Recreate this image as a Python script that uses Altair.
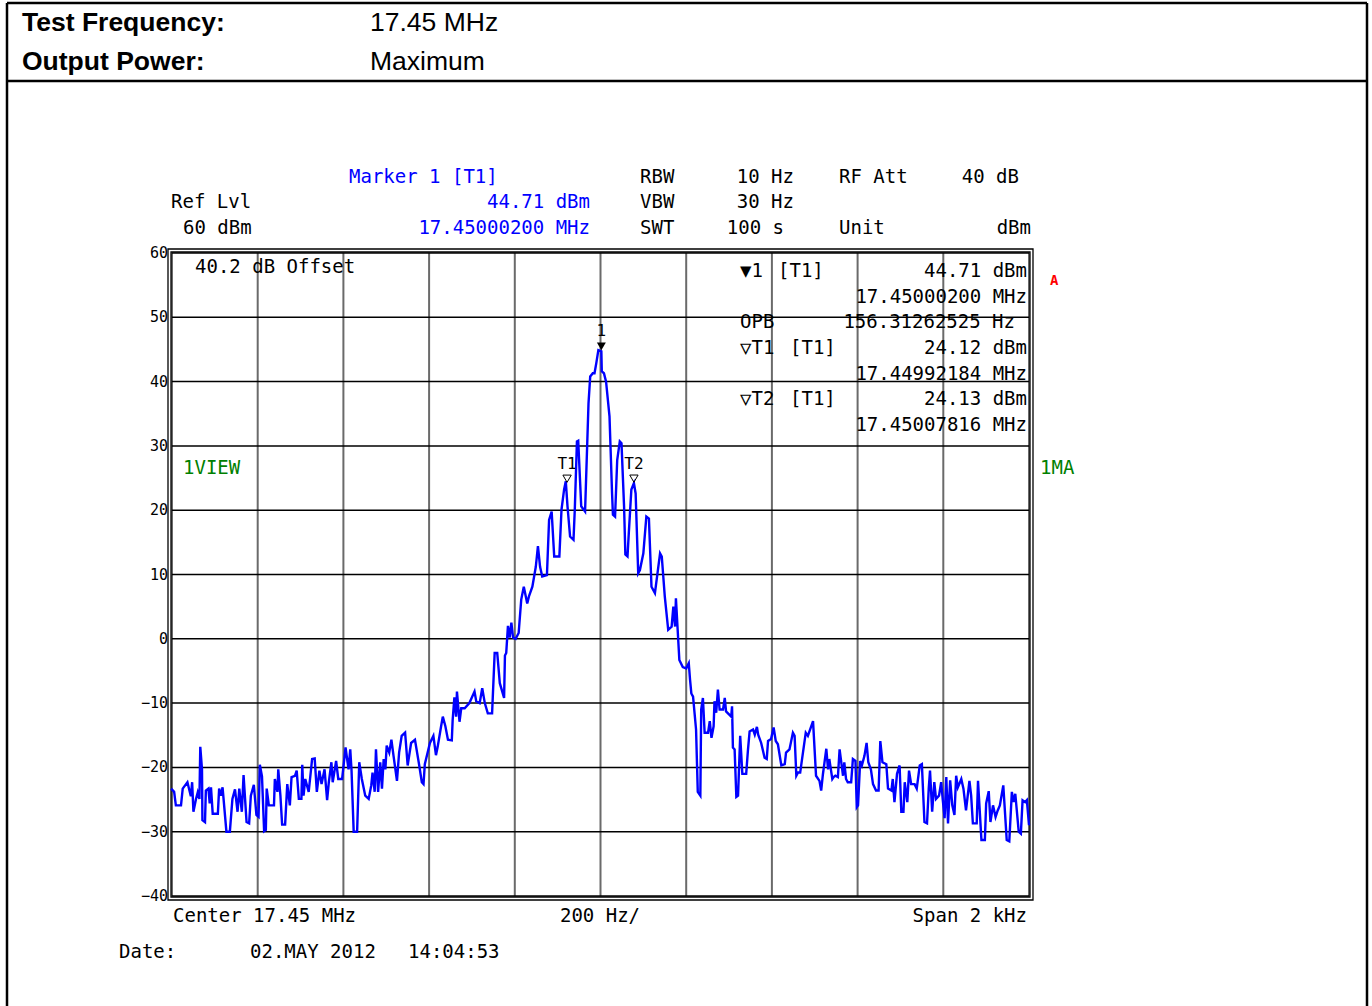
import altair as alt
import pandas as pd

# ---------------- data ----------------
trace_hz = [
    -1002, -995, -991, -979, -975, -964, -956, -953, -950, -944, -940, -936, -934, -930, -929,
    -923, -921, -915, -912, -909, -905, -893, -890, -886, -882, -873, -865, -859, -853, -847,
    -843, -837, -833, -826, -820, -816, -809, -803, -798, -795, -790, -785, -781, -779, -774,
    -762, -760, -754, -752, -747, -743, -736, -731, -725, -721, -713, -709, -704, -698, -696,
    -693, -689, -681, -673, -667, -662, -656, -651, -644, -638, -634, -628, -625, -617, -612,
    -603, -595, -588, -584, -581, -576, -568, -563, -557, -549, -541, -535, -532, -527, -524,
    -519, -514, -510, -506, -502, -499, -493, -488, -483, -475, -470, -464, -456, -450, -442,
    -433, -423, -417, -413, -410, -398, -390,
    -384, -380, -372, -368, -362, -356, -347, -345, -341, -337, -335, -329, -325, -317, -306,
    -294, -290, -282, -276, -270, -263, -253, -247, -241, -235, -225, -223, -220, -216, -212,
    -208, -204,
    -198, -191, -185, -179, -171, -167, -159, -151, -146, -141, -136, -125, -120, -114, -108,
    -96, -91, -85, -81, -77, -71, -63, -60, -55, -52, -45, -36, -28, -24, -18, -14, -10, -5,
    2, 3, 8, 13, 21, 27, 29, 34, 39, 45, 49, 55, 58, 63, 66, 72, 78, 82, 88, 92, 100, 107,
    113, 119, 127, 139, 143, 150, 158, 166, 170, 174, 176,
    184, 192, 200, 206, 209, 212, 216, 223, 227, 233, 235, 239, 243, 251, 255, 259, 264, 266,
    270, 274, 278, 286, 290, 293, 305, 307, 309, 313, 317, 321, 326, 331, 340, 344, 348, 356,
    360, 365, 368, 375, 383, 388, 391, 398, 404, 409, 414, 422, 430, 433, 441, 449, 453, 457,
    461, 466, 479, 484, 496, 503, 511, 515, 519, 527, 531, 534, 541, 544, 548, 554, 558, 566,
    569, 573, 577, 585, 589, 595, 598, 601, 606, 610, 616, 621, 625, 631, 636, 643, 649, 653,
    658, 667, 671, 679, 682, 686, 692, 698, 702, 707, 710, 716, 720, 725, 733, 738, 745, 750,
    756, 762, 766, 769, 774, 779, 783, 790, 795, 799, 803, 807, 811, 816, 821, 826, 830, 834,
    842, 847, 853, 861, 865, 869, 878, 881, 889, 897, 900, 906, 910, 916, 922, 927, 932, 940,
    948, 954, 960, 964, 968, 976, 981, 985, 991, 995, 1000,
]
trace_dbm = [
    -23.3, -23.8, -25.9, -25.9, -23.3, -22.3, -24.5, -22.3, -26.9, -24.9, -23.9, -24.9, -16.8, -20.3, -28.2,
    -28.5, -23.6, -23.3, -25.6, -23.1, -27.2, -27.2, -23.3, -24.4, -23.1, -30.0, -30.0, -24.9, -23.4, -26.9,
    -23.3, -26.9, -21.2, -28.5, -28.7, -24.4, -22.7, -27.4, -27.7, -19.6, -21.4, -29.9, -29.7, -23.3, -25.9,
    -25.9, -21.8, -23.8, -20.3, -24.4, -28.9, -28.9, -22.6, -25.9, -21.5, -21.3, -20.5, -24.9, -24.9, -19.6,
    -24.4, -21.8, -23.8, -18.7, -18.6, -23.8, -20.5, -22.6, -20.3, -25.1, -22.3, -19.2, -22.3, -19.0, -21.8,
    -21.8, -16.9, -20.3, -17.2, -20.5, -30.0, -30.0, -19.2, -21.8, -24.4, -24.9, -22.8, -20.8, -23.8, -17.2,
    -23.8, -19.2, -23.3, -18.7, -20.3, -16.6, -17.7, -15.7, -18.2, -22.1, -17.7, -15.1, -14.6, -19.7, -16.2,
    -15.7, -19.7, -22.3, -22.6, -19.5, -16.2, -15.1,
    -18.1, -16.8, -13.6, -12.1, -13.6, -15.7, -15.8, -12.6, -9.1, -12.1, -8.2, -12.9, -10.8, -10.8, -10.0,
    -8.2, -9.7, -10.0, -7.7, -10.0, -11.6, -11.6, -2.2, -2.2, -6.9, -9.2, -2.6, -2.2, 2.0, 0.2,
    2.5, 0.2,
    0.0, 0.9, 6.1, 8.1, 5.5, 6.6, 8.1, 11.2, 14.4, 11.2, 9.7, 9.9, 18.5, 19.8, 12.8,
    12.8, 20.1, 23.2, 24.5, 20.6, 15.9, 15.4, 20.1, 30.7, 30.8, 20.6, 19.8, 36.6, 40.8, 41.3, 41.3, 42.8, 44.9,
    44.71, 41.6, 41.3, 40.0, 34.6, 22.6, 19.3, 19.0, 27.8, 30.7, 30.4, 20.6, 13.1, 12.8, 16.4, 23.2, 24.2, 22.6, 10.2, 10.7, 13.3, 19.0,
    18.7, 8.1, 7.1, 13.3, 12.8, 6.6, 1.4, 1.9, 5.0, 1.9, 6.3,
    -3.3, -4.4, -4.6, -3.8, -6.4, -8.5, -9.0, -14.1, -23.8, -24.4, -11.0, -9.2, -14.6, -14.6, -12.8, -15.4, -13.6, -9.7,
    -11.5, -7.9, -11.0, -11.0, -9.2, -11.3, -12.1, -10.5, -16.9, -17.2, -24.6, -24.4, -15.1, -21.0, -21.0, -17.4, -14.4, -14.1,
    -14.9, -13.7, -14.9, -16.2, -18.5, -18.7, -15.9, -15.6, -13.8, -15.9, -16.4, -19.7, -19.5, -17.7, -17.2, -14.6, -15.1, -21.3,
    -20.8, -20.8, -14.6, -15.1, -12.8, -21.3, -22.1, -23.6, -21.1, -17.1, -20.3, -18.7, -21.8, -21.5, -21.3, -21.5, -17.2, -21.3,
    -19.2, -21.8, -22.3, -22.3, -18.7, -19.0, -26.2, -25.9, -19.0, -19.7, -18.2, -16.2, -19.2, -20.3, -22.6, -23.6, -23.6, -15.9,
    -19.2, -19.5, -23.3, -23.6, -21.8, -25.4, -21.0, -19.7, -26.9, -26.9, -22.3, -25.4, -20.5, -22.6, -22.6, -23.3, -19.7, -19.5,
    -28.5, -28.7, -23.3, -20.5, -26.9, -22.3, -24.9, -24.4, -22.3, -25.2, -27.9, -21.5, -28.7, -22.0, -25.9, -27.4, -21.3, -23.1,
    -21.8, -23.3, -26.7, -22.1, -24.4, -28.7, -28.7, -22.1, -31.3, -31.3, -25.6, -23.7, -28.5, -25.9, -27.7, -26.7, -25.9, -22.8,
    -31.3, -31.5, -23.8, -25.4, -24.1, -30.0, -30.3, -25.1, -25.4, -25.1, -29.0,
]

marker_names = ["1", "T1", "T2"]
marker_hz = [2, -78, 78]
marker_dbm = [44.71, 24.12, 24.13]
marker_filled = [True, False, False]

y_ticks = [60, 50, 40, 30, 20, 10, 0, -10, -20, -30, -40]
x_grid = [-1000, -800, -600, -400, -200, 0, 200, 400, 600, 800, 1000]

# ---------------- layout ----------------
PL, PT = 172, 253          # page position of plot area's top-left corner
W, H = 857, 643
PAGE_W, PAGE_H = 1372, 1006
MONO = "DejaVu Sans Mono"
BLUE = "#0000ff"
TS = 19                     # instrument text size


def px(x):
    return x - PL


def py(y):
    return y - PT


trace = pd.DataFrame({"hz": trace_hz, "dbm": trace_dbm})
markers = pd.DataFrame({"name": marker_names, "hz": marker_hz, "dbm": marker_dbm,
                        "filled": marker_filled})

xs = alt.Scale(domain=[-1000, 1000], nice=False, zero=False)
ys = alt.Scale(domain=[-40, 60], nice=False, zero=False)
X = alt.X("hz:Q", scale=xs, axis=None)
Y = alt.Y("dbm:Q", scale=ys, axis=None)

# grid: vertical gray, horizontal black
vgrid = alt.Chart(pd.DataFrame({"hz": x_grid})).mark_rule(color="#6a6a6a", strokeWidth=2).encode(x=X)
hgrid = alt.Chart(pd.DataFrame({"dbm": y_ticks})).mark_rule(color="#000000", strokeWidth=1.5).encode(y=Y)
ylabels = alt.Chart(pd.DataFrame({"dbm": y_ticks})).mark_text(
    align="right", baseline="middle", font=MONO, fontSize=15, color="#000000", dx=-4
).encode(y=Y, x=alt.value(0), text=alt.Text("dbm:Q", format="d"))

line = alt.Chart(trace).mark_line(color=BLUE, strokeWidth=2.4, interpolate="linear").encode(x=X, y=Y)

filled_tri = alt.Chart(markers).transform_filter("datum.filled").mark_point(
    shape="triangle-down", filled=True, color="#000000", size=80, opacity=1, yOffset=-5
).encode(x=X, y=Y)
hollow_tri = alt.Chart(markers).transform_filter("!datum.filled").mark_point(
    shape="triangle-down", filled=False, color="#000000", size=70, strokeWidth=1, opacity=1, yOffset=-5
).encode(x=X, y=Y)
marker_lbl = alt.Chart(markers).mark_text(
    font=MONO, fontSize=16, color="#000000", yOffset=-20, align="center"
).encode(x=X, y=Y, text="name:N")

# frame (double line) around the plot area
frame_rows = pd.DataFrame({"x": [px(168), px(171)], "y": [py(249), py(252)],
                           "x2": [px(1033), px(1030)], "y2": [py(900), py(897)]})
frame = alt.Chart(frame_rows).mark_rect(fill=None, stroke="#000000", strokeWidth=1.3).encode(
    x=alt.X("x:Q", scale=None), y=alt.Y("y:Q", scale=None),
    x2="x2:Q", y2="y2:Q")

# page box lines
box_rows = pd.DataFrame({
    "x": [px(7), px(1367), px(7), px(7)],
    "x2": [px(7), px(1367), px(1367), px(1367)],
    "y": [py(3), py(3), py(3), py(81)],
    "y2": [py(1006), py(1006), py(3), py(81)],
})
box = alt.Chart(box_rows).mark_rule(color="#000000", strokeWidth=2.5).encode(
    x=alt.X("x:Q", scale=None), x2="x2:Q", y=alt.Y("y:Q", scale=None), y2="y2:Q")


def texts(rows, align="left", font=MONO, weight="normal", size=TS, color="#000000"):
    df = pd.DataFrame(rows, columns=["t", "x", "y"])
    df["x"] = df["x"].map(px)
    df["y"] = df["y"].map(py)
    return alt.Chart(df).mark_text(align=align, baseline="middle", font=font, fontWeight=weight,
                                   fontSize=size, color=color).encode(
        x=alt.X("x:Q", scale=None), y=alt.Y("y:Q", scale=None), text="t:N")


header_bold = texts([["Test Frequency:", 22, 23], ["Output Power:", 22, 62]],
                    font="Liberation Sans", weight="bold", size=26.5)
header_reg = texts([["17.45 MHz", 370, 23], ["Maximum", 370, 62]],
                   font="Liberation Sans", size=26.5)

blue_left = texts([["Marker 1 [T1]", 349, 177]], color=BLUE)
blue_right = texts([["44.71 dBm", 590, 202], ["17.45000200 MHz", 590, 228]],
                   align="right", color=BLUE)

black_left = texts([
    ["Ref Lvl", 171, 202], ["60 dBm", 183, 228],
    ["RBW", 640, 177], ["VBW", 640, 202], ["SWT", 640, 228],
    ["RF Att", 839, 177], ["Unit", 839, 228],
    ["40.2 dB Offset", 195, 267],
    ["\u25bc1", 740, 271], ["[T1]", 778, 271],
    ["OPB", 740, 322],
    ["\u25bdT1", 740, 348], ["[T1]", 790, 348],
    ["\u25bdT2", 740, 399], ["[T1]", 790, 399],
    ["Center 17.45 MHz", 173, 916],
    ["Date:", 119, 952], ["02.MAY 2012", 250, 952], ["14:04:53", 408, 952],
])
black_right = texts([
    ["10 Hz", 794, 177], ["30 Hz", 794, 202], ["100 s", 784, 228],
    ["40 dB", 1019, 177], ["dBm", 1031, 228],
    ["44.71 dBm", 1027, 271], ["17.45000200 MHz", 1027, 297],
    ["156.31262525 Hz", 1015, 322],
    ["24.12 dBm", 1027, 348], ["17.44992184 MHz", 1027, 374],
    ["24.13 dBm", 1027, 399], ["17.45007816 MHz", 1027, 425],
    ["Span 2 kHz", 1027, 916],
], align="right")
black_center = texts([["200 Hz/", 600, 916]], align="center")

green = texts([["1VIEW", 183, 468], ["1MA", 1040, 468]], color="#008000")
red = texts([["A", 1050, 281]], color="#ff0000", size=14, weight="bold")

chart = alt.layer(
    vgrid, hgrid, frame, box, ylabels, line, filled_tri, hollow_tri, marker_lbl,
    header_bold, header_reg, blue_left, blue_right, black_left, black_right, black_center,
    green, red,
).properties(
    width=W, height=H,
    autosize=alt.AutoSizeParams(type="none"),
    padding={"left": PL, "top": PT, "right": PAGE_W - PL - W, "bottom": PAGE_H - PT - H},
    background="#ffffff",
).configure_view(strokeWidth=0, clip=False)

chart.save("out.html", embed_options={"renderer": "svg", "actions": False})
